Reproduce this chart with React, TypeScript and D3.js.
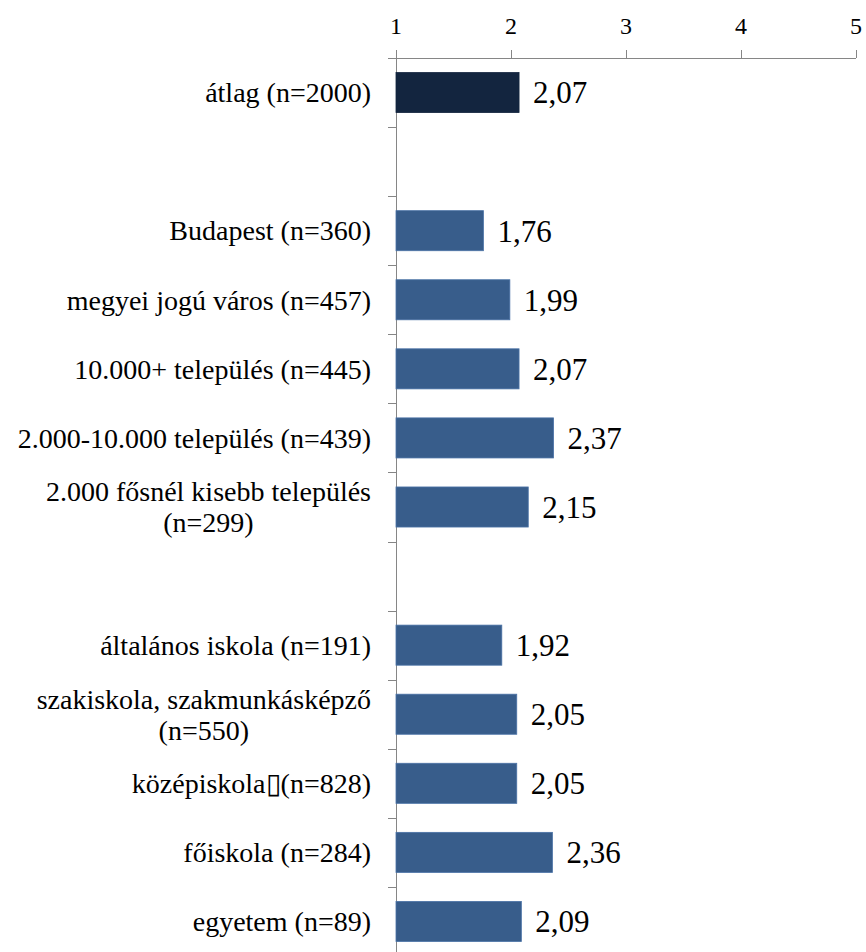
import * as d3 from "d3";

// rows top to bottom, blanks are the spacer rows between groups
const categories = [
  "átlag (n=2000)",
  "",
  "Budapest (n=360)",
  "megyei jogú város (n=457)",
  "10.000+ település (n=445)",
  "2.000-10.000 település (n=439)",
  "2.000 fősnél kisebb település|(n=299)",
  " ",
  "általános iskola (n=191)",
  "szakiskola, szakmunkásképző|(n=550)",
  "középiskola\u25AF(n=828)",
  "főiskola (n=284)",
  "egyetem (n=89)",
];
const values: (number | null)[] = [2.07, null, 1.76, 1.99, 2.07, 2.37, 2.15, null, 1.92, 2.05, 2.05, 2.36, 2.09];
const xTicks = [1, 2, 3, 4, 5];

const W = 866;
const H = 952;
const FONT = '"Liberation Serif"';
const LABEL_SIZE = 28;
const axisColor = "#868686";

let ctx: CanvasRenderingContext2D | null = null;
function textWidth(s: string, size: number) {
  if (!ctx) ctx = document.createElement("canvas").getContext("2d");
  if (!ctx) return s.length * size * 0.45;
  ctx.font = `${size}px "Liberation Serif"`;
  return ctx.measureText(s).width;
}

export default function App() {
  const x = d3.scaleLinear().domain([1, 5]).range([396, 856]);
  const y = d3
    .scaleBand<number>()
    .domain(categories.map((_, i) => i))
    .range([58, 956])
    .paddingInner(0.42)
    .paddingOuter(0.21);
  const step = y.step();
  const fmt = (v: number) => d3.format(".2f")(v).replace(".", ",");
  const labelRight = 371;

  return (
    <svg
      width={W}
      height={H}
      fontFamily="Liberation Serif"
      style={{ position: "absolute", left: 0, top: 0, background: "#fff" }}
    >
      {/* top value axis */}
      <line x1={x(1)} x2={x(5)} y1={58.5} y2={58.5} stroke={axisColor} />
      {xTicks.map((t) => (
        <g key={t}>
          <line x1={Math.round(x(t)) + 0.5} x2={Math.round(x(t)) + 0.5} y1={50} y2={58} stroke={axisColor} />
          <text x={x(t)} y={34} textAnchor="middle" fontFamily="Liberation Serif" style={{ fontFamily: FONT, fontSize: 24 }}>
            {t}
          </text>
        </g>
      ))}

      {/* category axis */}
      <line x1={396.5} x2={396.5} y1={58} y2={H} stroke={axisColor} />
      {d3.range(categories.length + 1).map((i) => (
        <line
          key={i}
          x1={388}
          x2={396}
          y1={Math.round(58 + i * step) + 0.5}
          y2={Math.round(58 + i * step) + 0.5}
          stroke={axisColor}
        />
      ))}
      {categories.map((c, i) => {
        if (!c.trim()) return null;
        const lines = c.split("|");
        const cy = (y(i) ?? 0) + y.bandwidth() / 2;
        const bw = Math.max(...lines.map((l) => textWidth(l, LABEL_SIZE)));
        const lh = 31;
        return (
          <text
            key={i}
            textAnchor="middle"
            fontFamily="Liberation Serif"
            style={{ fontFamily: FONT, fontSize: LABEL_SIZE }}
            fill="#000"
          >
            {lines.map((ln, k) => (
              <tspan key={k} x={labelRight - bw / 2} y={cy + (k - (lines.length - 1) / 2) * lh} dy="0.35em">
                {ln}
              </tspan>
            ))}
          </text>
        );
      })}

      {/* bars */}
      {values.map((v, i) =>
        v == null ? null : (
          <g key={i}>
            <rect
              x={x(1)}
              y={y(i)}
              width={x(v) - x(1)}
              height={y.bandwidth()}
              fill={i === 0 ? "#13253F" : "#385D8B"}
              stroke={i === 0 ? "#13253F" : "#4A72A6"}
              strokeWidth={0.8}
            />
            <text
              x={x(v) + 14}
              y={(y(i) ?? 0) + y.bandwidth() / 2}
              dy="0.35em"
              fontFamily="Liberation Serif"
              style={{ fontFamily: FONT, fontSize: 31 }}
            >
              {fmt(v)}
            </text>
          </g>
        )
      )}
    </svg>
  );
}
